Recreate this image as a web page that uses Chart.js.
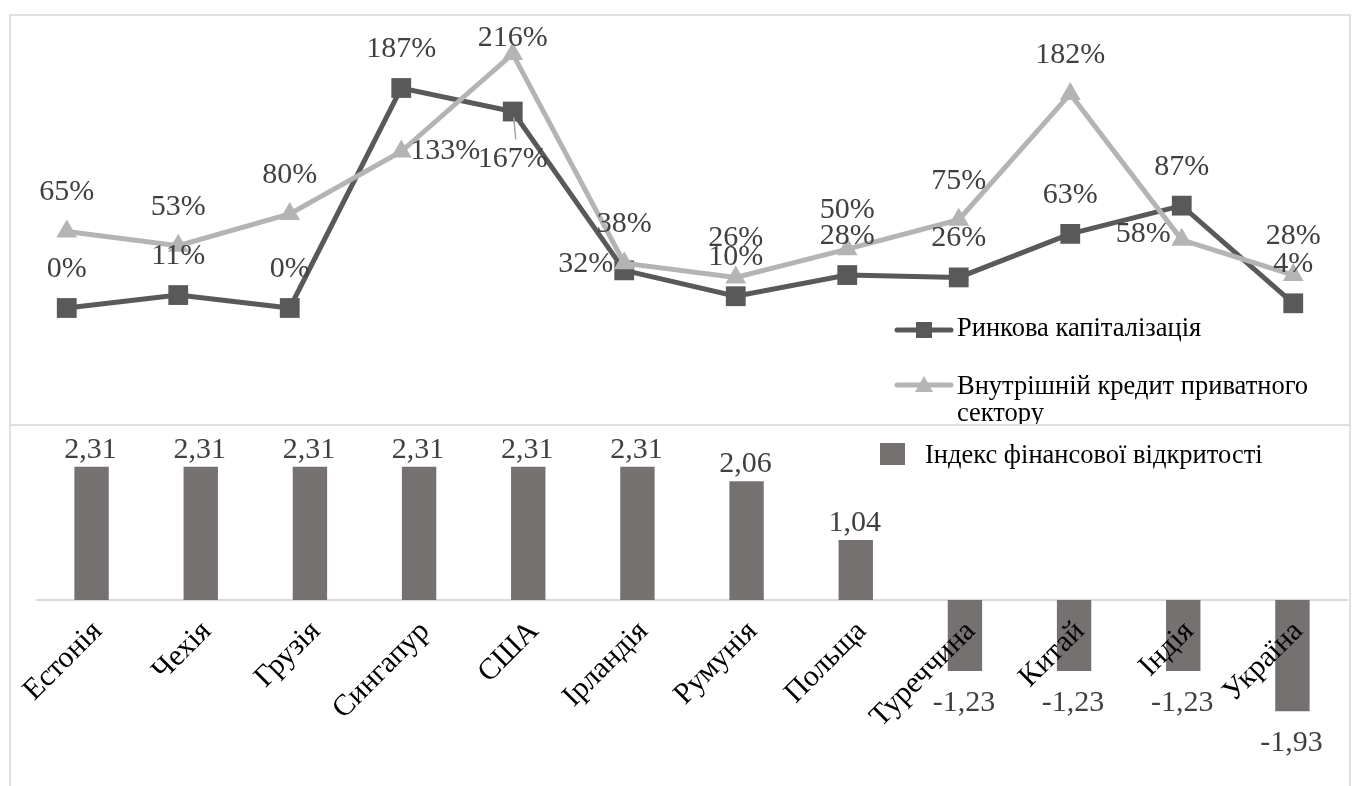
<!DOCTYPE html>
<html>
<head>
<meta charset="utf-8">
<script src="https://cdn.jsdelivr.net/npm/chart.js@4.4.0/dist/chart.umd.min.js"></script>
<style>
  body { margin: 0; background: #fff; }
  .box { position: absolute; left: 9px; width: 1342px; border: 2px solid #e0e0e0; box-sizing: border-box; overflow: hidden; }
  #top { top: 14px; height: 412px; }
  #bottom { top: 424px; height: 380px; }
  canvas { display: block; }
</style>
</head>
<body>
<div class="box" id="top"><canvas id="lines" width="1338" height="408"></canvas></div>
<div class="box" id="bottom"><canvas id="bars" width="1338" height="360"></canvas></div>
<script>
const countries = ["Естонія", "Чехія", "Грузія", "Сингапур", "США", "Ірландія", "Румунія", "Польща", "Туреччина", "Китай", "Індія", "Україна"];
const marketCap = [0, 11, 0, 187, 167, 32, 10, 28, 26, 63, 87, 4];
const privateCredit = [65, 53, 80, 133, 216, 38, 26, 50, 75, 182, 58, 28];
const opennessIndex = [2.31, 2.31, 2.31, 2.31, 2.31, 2.31, 2.06, 1.04, -1.23, -1.23, -1.23, -1.93];

const capName = "Ринкова капіталізація";
const creditName = ["Внутрішній кредит приватного", "сектору"];
const indexName = "Індекс фінансової відкритості";

const darkGray = "#595959";
const lightGray = "#b4b4b4";
const barGray = "#767171";
const labelColor = "#404040";
const serif = "'Liberation Serif', 'Times New Roman', serif";

// where a point label goes when not above the marker
const labelSide = [
  { 4: "below", 5: "left" },
  { 3: "right", 10: "left" },
];

const pointLabels = {
  id: "pointLabels",
  afterDatasetsDraw(chart) {
    const ctx = chart.ctx;
    const area = chart.chartArea;
    ctx.save();
    ctx.font = "30px " + serif;
    ctx.fillStyle = labelColor;
    ctx.textBaseline = "middle";
    chart.data.datasets.forEach((ds, di) => {
      const meta = chart.getDatasetMeta(di);
      meta.data.forEach((pt, i) => {
        const text = ds.data[i] + "%";
        const side = labelSide[di][i] || "above";
        let x = pt.x, y = pt.y;
        ctx.textAlign = "center";
        if (side === "above") {
          y = Math.max(pt.y - 39, area.top + 22);
        } else if (side === "below") {
          y = pt.y + 48;
          ctx.strokeStyle = "#a6a6a6";
          ctx.lineWidth = 1.5;
          ctx.beginPath();
          ctx.moveTo(pt.x + 1, pt.y + 6);
          ctx.lineTo(pt.x + 3, pt.y + 28);
          ctx.stroke();
        } else if (side === "left") {
          ctx.textAlign = "right";
          x = pt.x - 11;
          y = pt.y - 6;
        } else {
          ctx.textAlign = "left";
          x = pt.x + 9;
        }
        ctx.fillText(text, x, y);
      });
    });
    ctx.restore();
  },
};

const lineLegend = {
  id: "lineLegend",
  afterDraw(chart) {
    const ctx = chart.ctx;
    ctx.save();
    ctx.lineWidth = 5;
    ctx.lineCap = "round";
    // market cap
    ctx.strokeStyle = darkGray;
    ctx.beginPath(); ctx.moveTo(886, 314); ctx.lineTo(940, 314); ctx.stroke();
    ctx.fillStyle = darkGray;
    ctx.fillRect(905, 306, 16, 16);
    // private credit
    ctx.strokeStyle = lightGray;
    ctx.beginPath(); ctx.moveTo(886, 369); ctx.lineTo(940, 369); ctx.stroke();
    ctx.fillStyle = lightGray;
    ctx.beginPath(); ctx.moveTo(913, 360); ctx.lineTo(922, 376); ctx.lineTo(904, 376); ctx.closePath(); ctx.fill();

    ctx.font = "26.5px " + serif;
    ctx.fillStyle = "#000";
    ctx.textBaseline = "middle";
    ctx.textAlign = "left";
    ctx.fillText(capName, 946, 313);
    ctx.fillText(creditName[0], 946, 371);
    ctx.fillText(creditName[1], 946, 398);
    ctx.restore();
  },
};

new Chart(document.getElementById("lines").getContext("2d"), {
  type: "line",
  data: {
    labels: countries,
    datasets: [
      {
        label: capName,
        data: marketCap,
        borderColor: darkGray,
        backgroundColor: darkGray,
        borderWidth: 5,
        pointStyle: "rect",
        pointRadius: 14,
        pointBorderWidth: 0,
        tension: 0,
        clip: false,
        order: 1,
      },
      {
        label: creditName.join(" "),
        data: privateCredit,
        borderColor: lightGray,
        backgroundColor: lightGray,
        borderWidth: 5,
        pointStyle: "triangle",
        pointRadius: 12,
        pointBorderWidth: 0,
        tension: 0,
        clip: false,
        order: 0,
      },
    ],
  },
  options: {
    responsive: false,
    animation: false,
    layout: { padding: 0, autoPadding: false },
    scales: {
      x: { type: "category", offset: true, display: false },
      y: { min: -98.6, max: 248.2, display: false },
    },
    plugins: { legend: { display: false }, tooltip: { enabled: false } },
  },
  plugins: [pointLabels, lineLegend],
});

const barLabels = {
  id: "barLabels",
  afterDatasetsDraw(chart) {
    const ctx = chart.ctx;
    const meta = chart.getDatasetMeta(0);
    ctx.save();
    ctx.font = "30px " + serif;
    ctx.fillStyle = labelColor;
    ctx.textAlign = "center";
    ctx.textBaseline = "middle";
    meta.data.forEach((bar, i) => {
      const v = opennessIndex[i];
      const text = v.toFixed(2).replace(".", ",");
      const y = v >= 0 ? bar.y - 17 : bar.y + 32;
      ctx.fillText(text, bar.x - 1, y);
    });
    ctx.restore();
  },
};

const barLegend = {
  id: "barLegend",
  afterDraw(chart) {
    const ctx = chart.ctx;
    ctx.save();
    ctx.fillStyle = barGray;
    ctx.fillRect(869, 17, 25, 22);
    ctx.font = "26.5px " + serif;
    ctx.fillStyle = "#000";
    ctx.textBaseline = "middle";
    ctx.fillText(indexName, 914, 30);
    ctx.restore();
  },
};

new Chart(document.getElementById("bars").getContext("2d"), {
  type: "bar",
  data: {
    labels: countries,
    datasets: [
      {
        label: indexName,
        data: opennessIndex,
        backgroundColor: barGray,
        categoryPercentage: 1,
        barPercentage: 0.315,
        clip: false,
      },
    ],
  },
  options: {
    responsive: false,
    animation: false,
    layout: { padding: { left: 26, right: 2, top: 0, bottom: 0 }, autoPadding: false },
    scales: {
      x: {
        type: "category",
        position: { y: 0 },
        grid: { display: false, drawTicks: false },
        border: { display: true, color: "#d9d9d9", width: 2 },
        ticks: {
          z: 1,
          autoSkip: false,
          minRotation: 45,
          maxRotation: 45,
          padding: 14,
          labelOffset: 6,
          color: "#000",
          font: { family: serif, size: 30 },
        },
        afterFit(scale) {
          scale.paddingLeft = 0;
          scale.paddingRight = 0;
        },
      },
      y: { min: -3.224, max: 3.016, display: false },
    },
    plugins: { legend: { display: false }, tooltip: { enabled: false } },
  },
  plugins: [barLabels, barLegend],
});
</script>
</body>
</html>
